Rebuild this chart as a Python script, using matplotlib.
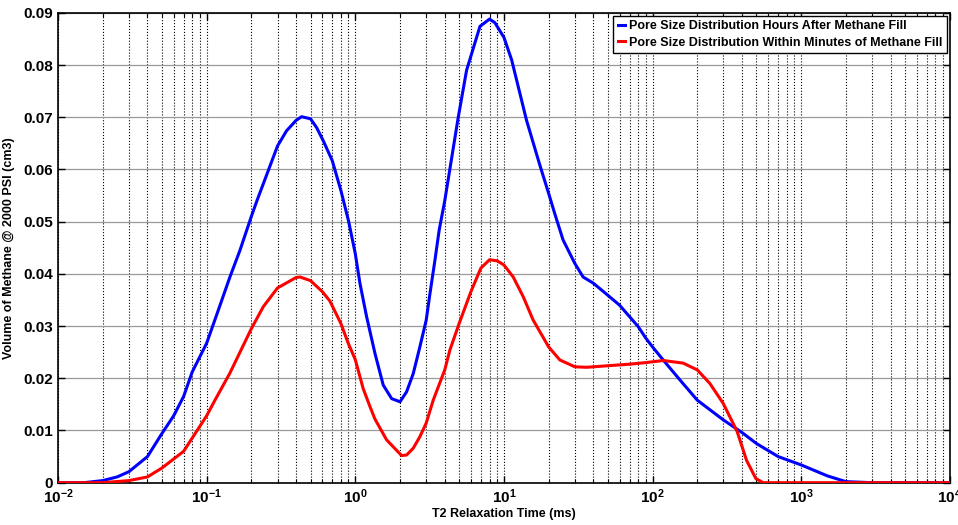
import matplotlib
matplotlib.use("Agg")
import matplotlib.pyplot as plt
from matplotlib.ticker import LogLocator, FixedLocator, NullFormatter

plt.rcParams['font.family'] = ['Liberation Sans', 'DejaVu Sans']
plt.rcParams['font.weight'] = 'bold'
plt.rcParams['mathtext.fontset'] = 'custom'
plt.rcParams['mathtext.rm'] = 'Liberation Sans:bold'
plt.rcParams['mathtext.bf'] = 'Liberation Sans:bold'

# === Data ===
# T2 relaxation time (ms) and volume (cm3), hours after methane fill
t2_hours = [0.01, 0.015, 0.02, 0.025, 0.03, 0.04, 0.05, 0.06, 0.07, 0.08,
            0.1, 0.1167, 0.1435, 0.1676, 0.2, 0.218, 0.25, 0.3, 0.345, 0.4,
            0.4355, 0.5, 0.55, 0.609, 0.7, 0.8, 0.9, 1.0, 1.075, 1.192,
            1.356, 1.542, 1.757, 2.0, 2.215, 2.455, 2.72, 3.0, 3.18, 3.435,
            3.67, 4.0, 4.93, 5.61, 6.9, 8.0, 8.7, 10.0, 11.27, 14.2,
            17.46, 20.0, 22.0, 25.0, 30.0, 34.1, 40.0, 50.0, 60.0, 70.0,
            80.0, 90.0, 100.0, 117.9, 152.6, 200.0, 300.0, 400.0, 500.0, 700.0,
            1000.0, 1500.0, 2000.0, 3000.0, 10000.0]
vol_hours = [0.0, 0.0, 0.0004, 0.0011, 0.0021, 0.005, 0.0094, 0.0128, 0.0165, 0.0212,
             0.0267, 0.0321, 0.0394, 0.0445, 0.051, 0.054, 0.0585, 0.0645, 0.0674, 0.0694,
             0.0701, 0.0697, 0.068, 0.0655, 0.0617, 0.056, 0.0502, 0.0439, 0.0382, 0.0318,
             0.0248, 0.0187, 0.0161, 0.0155, 0.0174, 0.0209, 0.026, 0.0311, 0.0362, 0.0426,
             0.0484, 0.054, 0.070, 0.079, 0.0874, 0.0888, 0.0881, 0.0853, 0.081, 0.0694,
             0.0608, 0.0554, 0.0515, 0.0465, 0.042, 0.0394, 0.0382, 0.0359, 0.034, 0.0318,
             0.0299, 0.0277, 0.026, 0.0235, 0.0197, 0.0158, 0.012, 0.0096, 0.0075, 0.005,
             0.0034, 0.0013, 0.0002, 0.0, 0.0]

# within minutes of methane fill
t2_minutes = [0.01, 0.02, 0.03, 0.04, 0.05, 0.07, 0.1, 0.1138, 0.1435, 0.2,
              0.2405, 0.3, 0.4, 0.4246, 0.5, 0.6, 0.675, 0.8, 0.9, 1.0,
              1.131, 1.255, 1.356, 1.625, 2.05, 2.215, 2.455, 2.72, 3.0, 3.345,
              4.0, 4.33, 5.0, 6.0, 7.0, 8.0, 9.0, 10.0, 11.55, 13.5,
              15.7, 20.0, 23.8, 30.0, 36.0, 50.0, 70.0, 90.0, 117.9, 160.7,
              200.0, 243.0, 298.5, 370.7, 428.5, 495.0, 554.6, 10000.0]
vol_minutes = [0.0, 0.0, 0.0004, 0.0011, 0.0028, 0.006, 0.0128, 0.0158, 0.021, 0.0295,
               0.0337, 0.0373, 0.0393, 0.0394, 0.0387, 0.0366, 0.0348, 0.0305, 0.0266, 0.0236,
               0.018, 0.0146, 0.0122, 0.0082, 0.0052, 0.0053, 0.0066, 0.0088, 0.0114, 0.0158,
               0.0216, 0.0254, 0.0305, 0.0366, 0.0411, 0.0427, 0.0425, 0.0417, 0.0394, 0.0356,
               0.0312, 0.026, 0.0235, 0.0222, 0.0221, 0.0224, 0.0227, 0.023, 0.0234, 0.0229,
               0.0216, 0.019, 0.0152, 0.0098, 0.0043, 0.0008, 0.0, 0.0]

y_ticks = [0, 0.01, 0.02, 0.03, 0.04, 0.05, 0.06, 0.07, 0.08, 0.09]
y_tick_labels = ['0', '0.01', '0.02', '0.03', '0.04', '0.05', '0.06', '0.07', '0.08', '0.09']
x_ticks = [1e-2, 1e-1, 1e0, 1e1, 1e2, 1e3, 1e4]
x_tick_labels = [r'$\mathbf{10^{-2}}$', r'$\mathbf{10^{-1}}$', r'$\mathbf{10^{0}}$',
                 r'$\mathbf{10^{1}}$', r'$\mathbf{10^{2}}$', r'$\mathbf{10^{3}}$',
                 r'$\mathbf{10^{4}}$']

# === Figure ===
fig = plt.figure(figsize=(9.58, 5.25), dpi=100)
ax = fig.add_axes([0.0605, 0.0806, 0.931, 0.895])

ax.plot(t2_hours, vol_hours, color='#0000ff', lw=2.2,
        label='Pore Size Distribution Hours After Methane Fill', zorder=3)
ax.plot(t2_minutes, vol_minutes, color='#ff0000', lw=2.2,
        label='Pore Size Distribution Within Minutes of Methane Fill', zorder=3)

ax.set_xscale('log')
ax.set_xlim(1e-2, 1e4)
ax.set_ylim(0, 0.09)

ax.xaxis.set_major_locator(FixedLocator(x_ticks))
ax.set_xticklabels(x_tick_labels)
ax.xaxis.set_minor_locator(LogLocator(base=10, subs=range(2, 10), numticks=20))
ax.xaxis.set_minor_formatter(NullFormatter())
ax.set_yticks(y_ticks)
ax.set_yticklabels(y_tick_labels)

# grid: dotted vertical lines at every decade and sub-decade, grey horizontal lines
ax.grid(True, which='both', axis='x', color='black', linestyle=':', lw=0.8)
ax.grid(True, which='major', axis='y', color='0.6', linestyle='-', lw=0.9)
ax.set_axisbelow(True)

ax.tick_params(which='both', direction='in', top=True, right=True, labelsize=11)
ax.tick_params(which='major', length=5, width=1)
ax.tick_params(which='minor', length=3, width=0.8)
for s in ax.spines.values():
    s.set_linewidth(1.2)

ax.set_xlabel('T2 Relaxation Time (ms)', fontsize=9, fontweight='bold', labelpad=1)
ax.set_ylabel('Volume of Methane @ 2000 PSI (cm3)', fontsize=9, fontweight='bold', labelpad=6)

leg = ax.legend(loc='upper right', fontsize=9, handlelength=0.6, handletextpad=0.3,
                borderaxespad=0.25, borderpad=0.35, labelspacing=0.35,
                fancybox=False, framealpha=1)
leg.get_frame().set_edgecolor('black')
leg.get_frame().set_linewidth(1.0)
for t in leg.get_texts():
    t.set_fontweight('bold')

fig.savefig('out.png', dpi=100)
